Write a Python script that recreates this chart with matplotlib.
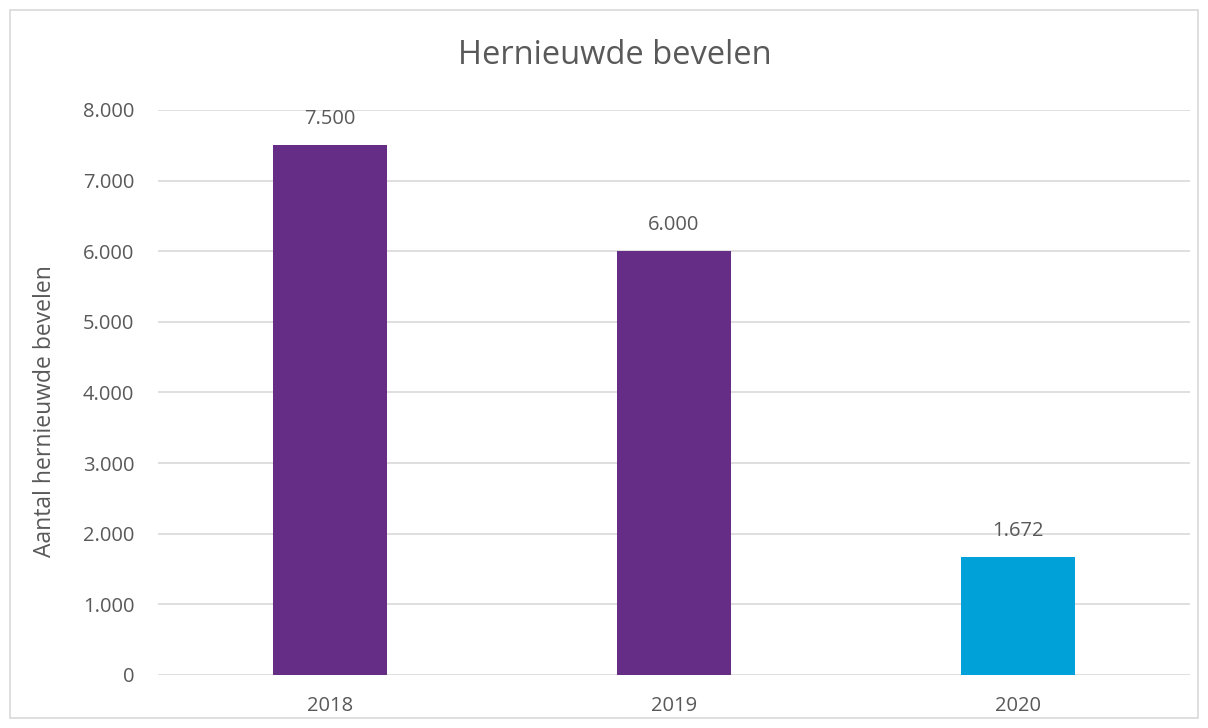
import matplotlib
matplotlib.use('Agg')
import matplotlib.pyplot as plt
from matplotlib.patches import Rectangle
from matplotlib.ticker import FuncFormatter

# gegevens
jaren = ['2018', '2019', '2020']
aantallen = [7500, 6000, 1672]
kleuren = ['#652D86', '#652D86', '#00A0D8']

plt.rcParams['font.family'] = ['Open Sans', 'DejaVu Sans']
tekst_kleur = '#595959'


def punt_format(v, pos=None):
    # Nederlandse duizendtallen met punt
    return f"{v:,.0f}".replace(',', '.')


fig = plt.figure(figsize=(12.08, 7.28), dpi=100)
ax = fig.add_axes([158 / 1208, 1 - 675 / 728, (1190 - 158) / 1208, (675 - 110) / 728])

x = range(len(jaren))
ax.bar(x, aantallen, width=0.33, color=kleuren, zorder=2)

for xi, v in zip(x, aantallen):
    ax.text(xi, v + 230, punt_format(v), ha='center', va='bottom',
            fontsize=14.5, color=tekst_kleur)

ax.set_xlim(-0.5, 2.5)
ax.set_ylim(0, 8000)
ax.set_yticks(range(0, 8001, 1000))
ax.yaxis.set_major_formatter(FuncFormatter(punt_format))
ax.set_xticks(list(x))
ax.set_xticklabels(jaren)
ax.tick_params(axis='both', length=0, labelsize=14.5, colors=tekst_kleur)
ax.tick_params(axis='x', pad=15)
ax.tick_params(axis='y', pad=17)

ax.grid(axis='y', color='#D9D9D9', linewidth=1.2, zorder=0)
for s in ax.spines.values():
    s.set_visible(False)

ax.set_ylabel('Aantal hernieuwde bevelen', fontsize=16.5, color=tekst_kleur)
ax.yaxis.set_label_coords(-0.098, 0.467)
fig.text(615 / 1208, 1 - 55 / 728, 'Hernieuwde bevelen', ha='center', va='center',
         fontsize=23.5, color=tekst_kleur)

# kader rond de grafiek
fig.patches.append(Rectangle((10 / 1208, 1 - 718 / 728), 1188 / 1208, 708 / 728,
                             transform=fig.transFigure, fill=False,
                             edgecolor='#D9D9D9', linewidth=1.2))

fig.savefig('out.png', dpi=100)
